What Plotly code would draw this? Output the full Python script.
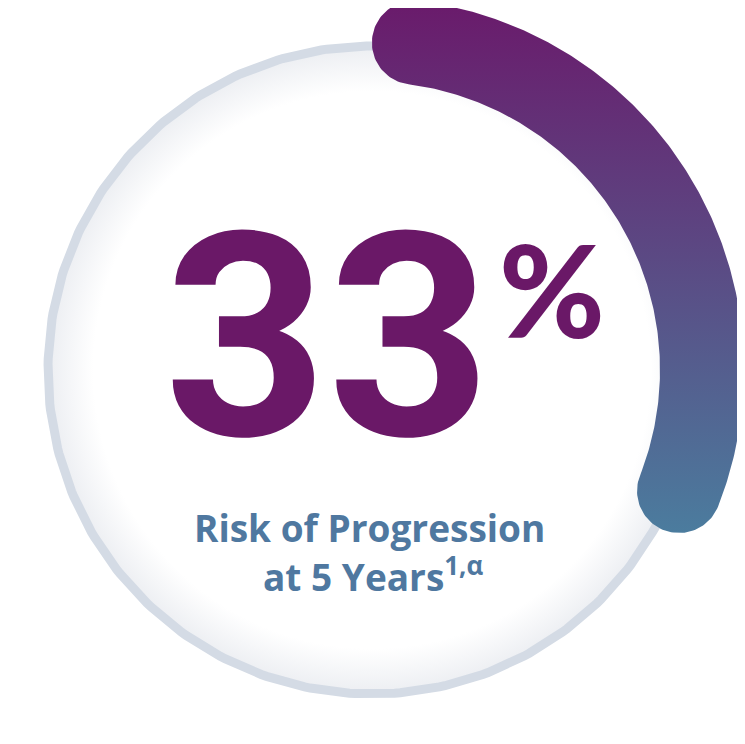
import numpy as np
import plotly.graph_objects as go

# ---- data ----
risk_percent = [33]
value_labels = ["33"]
unit_labels = ["%"]
caption_lines = ["Risk of Progression", "at 5 Years<sup>1,α</sup>"]
gauge_max = [100]

# ---- layout constants (pixel units) ----
W, H = 745, 744
OFF = 8  # page body margin compensation
CX, CY = 372, 370
R_TRACK = 324
R_ARC = 330
ARC_W = 84
PURPLE = "#6a1a6b"
BLUE = "#4b7c9e"
TEXT_PURPLE = "#6a1867"
TEXT_BLUE = "#4f78a0"

fig = go.Figure()

# background circle with faint inner shadow
t = np.linspace(0, 2 * np.pi, 361)
fig.add_trace(go.Scatter(
    x=CX + (R_TRACK) * np.sin(t), y=CY - (R_TRACK) * np.cos(t),
    mode="lines", line=dict(width=0, color="rgba(0,0,0,0)"),
    fill="toself",
    fillgradient=dict(type="radial",
                      colorscale=[[0, "#ffffff"], [0.86, "#ffffff"], [1, "#eceef2"]]),
    hoverinfo="skip", showlegend=False))
fig.add_trace(go.Scatter(
    x=CX + R_TRACK * np.sin(t), y=CY - R_TRACK * np.cos(t),
    mode="lines", line=dict(width=9, color="#d4dbe5"),
    hoverinfo="skip", showlegend=False))

# progress arc (rounded caps) spanning value% of the circle
span = 2 * np.pi * risk_percent[0] / gauge_max[0]
half = ARC_W / 2
cap = half / R_ARC
a0, a1 = cap, span - cap
ang = np.linspace(a0, a1, 200)
outer_x = CX + (R_ARC + half) * np.sin(ang)
outer_y = CY - (R_ARC + half) * np.cos(ang)
inner_x = CX + (R_ARC - half) * np.sin(ang[::-1])
inner_y = CY - (R_ARC - half) * np.cos(ang[::-1])
ex, ey = CX + R_ARC * np.sin(a1), CY - R_ARC * np.cos(a1)
sx, sy = CX + R_ARC * np.sin(a0), CY - R_ARC * np.cos(a0)
c = np.linspace(0, np.pi, 60)
end_x = ex + half * np.sin(a1 + c)
end_y = ey - half * np.cos(a1 + c)
start_x = sx + half * np.sin(a0 + np.pi + c)
start_y = sy - half * np.cos(a0 + np.pi + c)
px_ = np.concatenate([outer_x, end_x, inner_x, start_x])
py_ = np.concatenate([outer_y, end_y, inner_y, start_y])
ymin, ymax = py_.min(), py_.max()
fig.add_trace(go.Scatter(
    x=px_, y=py_, mode="lines", line=dict(width=0, color="rgba(0,0,0,0)"),
    fill="toself",
    fillgradient=dict(type="vertical", start=ymin, stop=ymax,
                      colorscale=[[0, PURPLE], [1, BLUE]]),
    hoverinfo="skip", showlegend=False))

# texts
fig.add_annotation(x=327, y=338, text=value_labels[0], showarrow=False,
                   font=dict(family="Roboto", size=285, color=TEXT_PURPLE, weight=700),
                   xanchor="center", yanchor="middle")
fig.add_annotation(x=552, y=288, text=unit_labels[0], showarrow=False,
                   font=dict(family="Lato", size=128, color=TEXT_PURPLE, weight=900),
                   xanchor="center", yanchor="middle")
fig.add_annotation(x=369, y=527, text=caption_lines[0], showarrow=False,
                   font=dict(family="Open Sans", size=37, color=TEXT_BLUE, weight=700),
                   xanchor="center", yanchor="middle")
fig.add_annotation(x=373, y=574, text=caption_lines[1], showarrow=False,
                   font=dict(family="Open Sans", size=37, color=TEXT_BLUE, weight=700),
                   xanchor="center", yanchor="middle")

fig.update_layout(
    width=W, height=H, margin=dict(l=0, r=0, t=0, b=0),
    paper_bgcolor="white", plot_bgcolor="white",
    xaxis=dict(range=[OFF, W + OFF], visible=False, fixedrange=True),
    yaxis=dict(range=[H + OFF, OFF], visible=False, fixedrange=True),
    showlegend=False,
)
fig.write_html("out.html")
